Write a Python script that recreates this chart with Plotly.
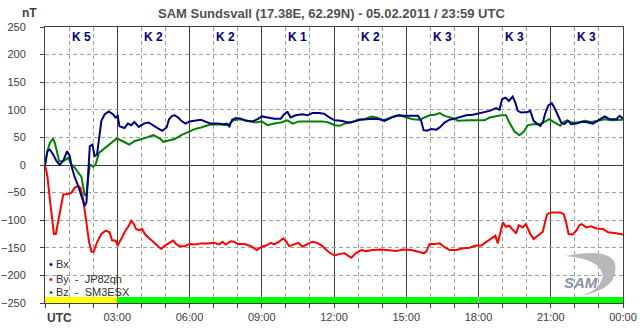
import plotly.graph_objects as go

# ---------------- data ----------------
bx_t = [0, 0.1, 0.2, 0.34, 0.48, 0.62, 0.78, 0.92, 1.03, 1.1, 1.24, 1.38, 1.51, 1.65, 1.72, 1.79, 1.86, 1.97,
        2.06, 2.16, 2.24, 2.34, 2.48, 2.65, 2.82, 2.93, 3.02, 3.09, 3.3, 3.44, 3.58, 3.71, 3.89, 4.1, 4.3, 4.5,
        4.71, 4.87, 5.05, 5.15, 5.28, 5.39, 5.53, 5.66, 5.83, 6.0, 6.2, 6.48, 6.69, 6.89, 7.17, 7.44, 7.55, 7.66,
        7.77, 7.93, 8.14, 8.34, 8.62, 8.83, 9.0, 9.24, 9.52, 9.79, 9.93, 10.07, 10.2, 10.41, 10.69, 10.9, 11.1,
        11.38, 11.59, 11.82, 12.03, 12.3, 12.58, 12.86, 13.07, 13.34, 13.62, 13.9, 14.1, 14.38, 14.59, 14.86,
        15.14, 15.49, 15.62, 15.72, 15.86, 16.04, 16.25, 16.39, 16.59, 16.8, 17.01, 17.21, 17.49, 17.77, 17.97,
        18.18, 18.46, 18.73, 18.87, 18.98, 19.12, 19.26, 19.42, 19.53, 19.63, 19.77, 19.94, 20.04, 20.15, 20.29,
        20.43, 20.57, 20.67, 20.76, 20.9, 21.04, 21.15, 21.29, 21.43, 21.57, 21.71, 21.85, 22.06, 22.26, 22.47,
        22.75, 22.99, 23.24, 23.44, 23.72, 23.86, 24.0]
bx_v = [0, 25, 28, 19, 7, 0, 10, 25, 16, -2, -23, -38, -56, -74, -68, -20, 34, 37,
        16, 19, 49, 80, 92, 97, 92, 86, 89, 70, 67, 75, 72, 78, 69, 75, 77, 71,
        66, 62, 68, 83, 89, 90, 86, 80, 75, 79, 80, 82, 78, 75, 75, 74, 75, 70,
        82, 85, 84, 80, 79, 83, 88, 86, 84, 84, 92, 96, 86, 90, 92, 90, 94,
        94, 93, 86, 81, 80, 77, 79, 82, 83, 84, 83, 80, 86, 89, 89,
        89, 89, 80, 63, 62, 65, 64, 68, 77, 82, 84, 87, 90, 91, 93,
        95, 98, 103, 100, 119, 122, 116, 124, 113, 98, 95, 95, 96, 98, 80,
        75, 71, 77, 92, 108, 112, 104, 92, 77, 74, 80, 74, 75, 78, 78,
        75, 82, 88, 83, 83, 89, 84]

by_t = [0, 0.1, 0.2, 0.3, 0.37, 0.45, 0.55, 0.65, 0.76, 0.96, 1.1, 1.24, 1.38, 1.47, 1.58, 1.72, 1.83, 1.93,
        2.02, 2.16, 2.34, 2.52, 2.68, 2.79, 2.93, 3.02, 3.09, 3.23, 3.34, 3.48, 3.58, 3.69, 3.78, 3.89, 4.03,
        4.16, 4.37, 4.57, 4.71, 4.82, 4.98, 5.19, 5.32, 5.46, 5.6, 5.8, 6.0, 6.21, 6.48, 6.76, 7.03, 7.23, 7.37,
        7.5, 7.71, 7.85, 8.0, 8.28, 8.55, 8.79, 9.0, 9.17, 9.38, 9.52, 9.72, 9.89, 10.0, 10.14, 10.34, 10.52,
        10.69, 10.9, 11.1, 11.31, 11.52, 11.7, 11.82, 12.03, 12.24, 12.44, 12.72, 12.93, 13.13, 13.34, 13.62,
        13.96, 14.31, 14.59, 14.86, 15.21, 15.49, 15.73, 15.83, 15.97, 16.18, 16.39, 16.59, 16.8, 17.08, 17.35,
        17.63, 17.9, 18.11, 18.32, 18.52, 18.7, 18.8, 18.9, 19.01, 19.14, 19.28, 19.42, 19.56, 19.67, 19.83,
        19.97, 20.06, 20.15, 20.29, 20.46, 20.67, 20.76, 20.85, 21.01, 21.22, 21.4, 21.54, 21.64, 21.74, 21.92,
        22.06, 22.19, 22.29, 22.47, 22.68, 22.89, 23.17, 23.38, 23.65, 23.93, 24.0]
by_v = [0, -20, -62, -104, -125, -125, -101, -74, -53, -53, -50, -41, -38, -41, -62, -104, -140, -157,
        -157, -140, -125, -119, -122, -137, -137, -146, -140, -128, -119, -110, -101, -107, -116, -118, -116,
        -126, -134, -142, -147, -152, -146, -141, -137, -144, -147, -147, -143, -144, -142, -142, -141, -144, -139,
        -144, -138, -139, -143, -143, -147, -154, -148, -146, -141, -144, -139, -133, -138, -147, -144, -141,
        -148, -144, -139, -141, -147, -155, -159, -164, -161, -160, -168, -159, -154, -156, -154,
        -153, -155, -156, -153, -154, -157, -160, -157, -143, -143, -142, -149, -154, -154, -151,
        -150, -146, -146, -140, -134, -128, -142, -122, -104, -112, -110, -117, -124, -109, -113,
        -107, -115, -125, -134, -128, -121, -104, -89, -86, -86, -86, -89, -104, -125, -126,
        -119, -109, -107, -113, -111, -115, -116, -122, -123, -126, -126]

bz_t = [0, 0.1, 0.2, 0.34, 0.41, 0.51, 0.59, 0.76, 0.96, 1.1, 1.24, 1.38, 1.51, 1.58, 1.65, 1.72, 1.79, 1.86,
        2.0, 2.1, 2.24, 2.41, 2.61, 2.82, 2.98, 3.23, 3.5, 3.71, 3.89, 4.03, 4.23, 4.5, 4.64, 4.78, 4.91, 5.12,
        5.39, 5.66, 5.94, 6.21, 6.48, 6.82, 7.17, 7.5, 7.6, 7.79, 8.0, 8.21, 8.48, 8.76, 9.0, 9.24, 9.52, 9.79,
        10.07, 10.28, 10.55, 10.9, 11.24, 11.52, 11.77, 12.03, 12.24, 12.44, 12.72, 13.0, 13.27, 13.55, 13.76,
        14.03, 14.24, 14.52, 14.72, 15.0, 15.28, 15.55, 15.77, 15.97, 16.18, 16.39, 16.59, 16.8, 17.01, 17.14,
        17.35, 17.63, 17.97, 18.25, 18.46, 18.73, 18.94, 19.14, 19.28, 19.49, 19.7, 19.9, 20.04, 20.25, 20.53,
        20.74, 20.94, 21.08, 21.26, 21.4, 21.54, 21.68, 21.85, 22.13, 22.4, 22.68, 22.96, 23.24, 23.51, 23.79, 24.0]
bz_v = [0, 25, 40, 48, 40, 22, 7, 7, 13, 1, -5, -14, -21, -38, -56, -53, -20, 1,
        -3, 1, 22, 28, 34, 43, 48, 43, 37, 43, 45, 47, 50, 54, 51, 48, 42, 44,
        47, 54, 60, 65, 68, 73, 74, 72, 72, 80, 83, 82, 80, 77, 79, 72, 75, 77,
        81, 75, 79, 79, 80, 79, 77, 72, 71, 75, 77, 82, 83, 88, 86,
        81, 84, 88, 91, 86, 83, 82, 86, 90, 91, 94, 89, 86, 84, 80,
        81, 81, 81, 81, 86, 89, 90, 90, 77, 61, 54, 61, 72, 74, 74,
        78, 83, 79, 74, 71, 78, 81, 77, 77, 80, 78, 80, 83, 81, 82, 82]

k_index = [5, 2, 2, 1, 2, 3, 3, 3]
x_tick_vals = [0, 3, 6, 9, 12, 15, 18, 21, 24]
x_tick_text = ["", "03:00", "06:00", "09:00", "12:00", "15:00", "18:00", "21:00", "00:00"]
y_tick_vals = [250, 200, 150, 100, 50, 0, -50, -100, -150, -200, -250]

series_names = ["Bx", "By  -  JP82qh", "Bz  -  SM3ESX"]
series_colors = ["#000080", "#FF0000", "#008000"]

title_text = "SAM Sundsvall (17.38E, 62.29N) - 05.02.2011 / 23:59 UTC"

# ---------------- figure ----------------
FONT = "Liberation Sans, Arial, sans-serif"
fig = go.Figure()
# draw order: By, Bz, then Bx on top
for t, v, name, col in [(by_t, by_v, series_names[1], series_colors[1]),
                        (bz_t, bz_v, series_names[2], series_colors[2]),
                        (bx_t, bx_v, series_names[0], series_colors[0])]:
    fig.add_trace(go.Scatter(x=t, y=v, mode="lines", name=name,
                             line=dict(color=col, width=2), showlegend=False))

shapes = []
# K-index bar at bottom
for i, k in enumerate(k_index):
    col = "#FFFF00" if k >= 4 else "#00FF00"
    shapes.append(dict(type="rect", xref="x", yref="y", x0=3 * i, x1=3 * i + 3, y0=-250, y1=-239,
                       fillcolor=col, line=dict(width=0), layer="above"))
shapes.append(dict(type="line", xref="x", yref="y", x0=18, x1=18, y0=-250, y1=-239,
                   line=dict(color="white", width=1), layer="above"))
# logo swoosh
shapes.append(dict(type="path", xref="paper", yref="paper",
                   path="M 0.905,0.02 Q 1.0,0.04 0.985,0.15 Q 0.97,0.2 0.9,0.17 Q 0.96,0.16 0.965,0.1 Q 0.96,0.03 0.905,0.02 Z",
                   fillcolor="#b8b8b8", line=dict(width=0), layer="above"))
fig.update_layout(shapes=shapes)

annotations = []
for i, k in enumerate(k_index):
    annotations.append(dict(x=3 * i + 1.5, y=1.0, xref="x", yref="paper", yanchor="middle", yshift=-10,
                            text=f"<b>K {k}</b>",
                            showarrow=False, font=dict(family=FONT, size=12, color="#000080")))
annotations.append(dict(x=0.495, y=1.0, xref="paper", yref="paper", yshift=14, yanchor="middle",
                        text=f"<b>{title_text}</b>", showarrow=False,
                        font=dict(family=FONT, size=13, color="#505050")))
annotations.append(dict(x=-0.043, y=1.0, xref="paper", yref="paper", yshift=14, yanchor="middle",
                        text="<b>nT</b>", showarrow=False,
                        font=dict(family=FONT, size=12, color="#404040")))
annotations.append(dict(x=0, y=0, xref="paper", yref="paper", xanchor="left", yanchor="top", yshift=-6,
                        text="<b>UTC</b>", showarrow=False,
                        font=dict(family=FONT, size=12, color="#404040")))
leg_y = [0.141, 0.088, 0.040]
for name, col, yy in zip(series_names, series_colors, leg_y):
    annotations.append(dict(x=0.004, y=yy, xref="paper", yref="paper", xanchor="left", yanchor="middle",
                            text=f"<span style='color:{col}'>\u2022</span> {name}", showarrow=False,
                            font=dict(family=FONT, size=11, color="#303030")))
annotations.append(dict(x=0.927, y=0.076, xref="paper", yref="paper", xanchor="center", yanchor="middle",
                        text="<i><b>SAM</b></i>", showarrow=False,
                        font=dict(family=FONT, size=15, color="#8a93a8")))
fig.update_layout(annotations=annotations)

fig.update_xaxes(range=[0, 24], tickvals=x_tick_vals, ticktext=x_tick_text, automargin=False,
                 showgrid=True, gridcolor="#404040", gridwidth=1,
                 ticks="outside", ticklen=4, tickcolor="#404040",
                 minor=dict(dtick=1, tick0=0, showgrid=True, gridcolor="#A0A0A0", griddash="4px,3px",
                            gridwidth=1, ticks="outside", ticklen=4, tickcolor="#404040"),
                 showline=True, mirror=True, linecolor="#404040", linewidth=1,
                 zeroline=False, tickfont=dict(family=FONT, size=11, color="#404040"))
fig.update_yaxes(range=[-250, 250], tickvals=y_tick_vals, automargin=False,
                 showgrid=True, gridcolor="#A0A0A0", griddash="4px,3px", gridwidth=1,
                 zeroline=True, zerolinecolor="#404040", zerolinewidth=1,
                 ticks="outside", ticklen=4, tickcolor="#404040", ticklabelstandoff=12,
                 showline=True, mirror=True, linecolor="#404040", linewidth=1,
                 tickfont=dict(family=FONT, size=11, color="#404040"))

fig.update_layout(width=643, height=331, margin=dict(l=45, r=20, t=27, b=28, autoexpand=False),
                  plot_bgcolor="white", paper_bgcolor="white", showlegend=False)

fig.write_html("out.html", config={"displayModeBar": False, "staticPlot": True},
               post_script="document.body.style.margin='0';document.body.style.padding='0';"
                           "document.body.style.overflow='hidden';")
